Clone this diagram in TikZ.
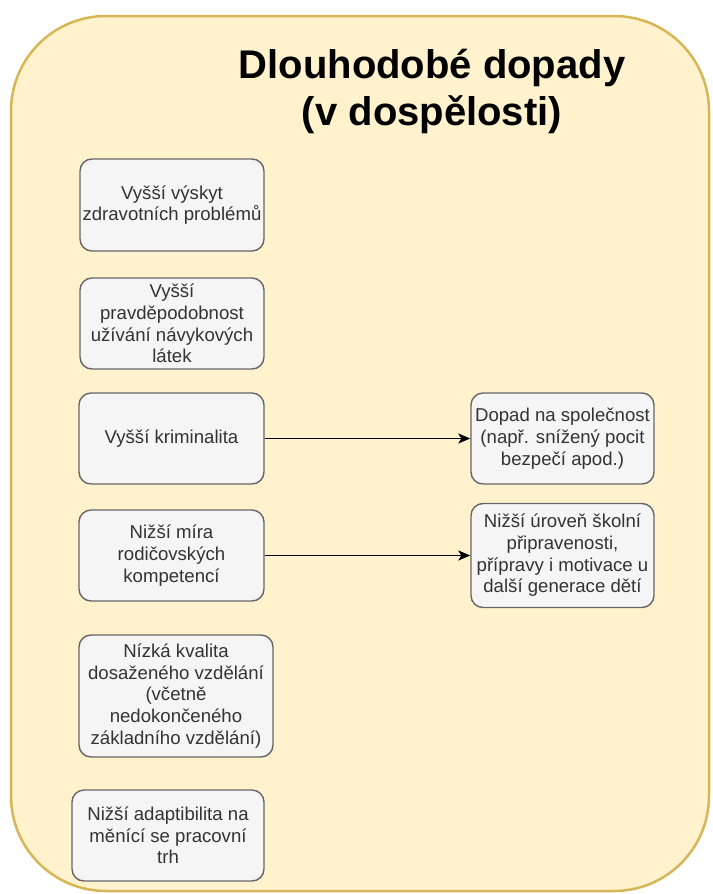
\documentclass[tikz,border=0pt]{standalone}
\usepackage{fontspec}
\setmainfont{Liberation Sans}
\usetikzlibrary{arrows.meta}
\definecolor{panelfill}{HTML}{FFF2CC}
\definecolor{panelline}{HTML}{D6B656}
\definecolor{boxfill}{HTML}{F5F5F5}
\definecolor{boxline}{HTML}{666666}
\definecolor{boxtext}{HTML}{333333}
\tikzset{
  panel/.style={draw=panelline, fill=panelfill, line width=2.5pt, rounded corners=95pt},
  title/.style={font=\fontsize{40}{47}\selectfont\bfseries, align=center, text=black},
  itembox/.style={draw=boxline, fill=boxfill, line width=1.4pt, rounded corners=12pt,
    text=boxtext, align=center, inner sep=0pt,
    font=\fontsize{18.6}{21.7}\selectfont},
  link/.style={draw=black, line width=1.8pt,
    -{Stealth[length=12pt, width=10pt, inset=3pt]}}
}
\begin{document}
\begin{tikzpicture}[x=1pt, y=-1pt]
\useasboundingbox (0,0) rectangle (712,894);

% yellow container
\draw[panel] (11,16) rectangle (709,891);

% heading
\node[title] (head) at (432,91) {Dlouhodobé dopady\\(v dospělosti)};

% left column
\node[itembox, minimum width=184pt, minimum height=92pt] (b1) at (172,205)
  {Vyšší výskyt\\zdravotních problémů};
\node[itembox, minimum width=184pt, minimum height=91pt] (b2) at (172,323.5)
  {Vyšší\\pravděpodobnost\\užívání návykových\\látek};
\node[itembox, minimum width=185pt, minimum height=91pt] (b3) at (171.5,438.5)
  {Vyšší kriminalita};
\node[itembox, minimum width=185pt, minimum height=91pt] (b4) at (171.5,555.5)
  {Nižší míra\\rodičovských\\kompetencí};
\node[itembox, minimum width=194pt, minimum height=122pt] (b5) at (176,696)
  {Nízká kvalita\\dosaženého vzdělání\\(včetně\\nedokončeného\\základního vzdělání)};
\node[itembox, minimum width=192pt, minimum height=91pt] (b6) at (168,835.5)
  {Nižší adaptibilita na\\měnící se pracovní\\trh};

% right column
\node[itembox, minimum width=183pt, minimum height=91pt] (r1) at (562.5,438.5)
  {Dopad na společnost\\(např. snížený pocit\\bezpečí apod.)};
\node[itembox, minimum width=183pt, minimum height=104pt] (r2) at (562.5,555.5)
  {Nižší úroveň školní\\připravenosti,\\přípravy i motivace u\\další generace dětí};

% consequences
\draw[link] (b3) -- (r1);
\draw[link] (b4) -- (r2);
\end{tikzpicture}
\end{document}
